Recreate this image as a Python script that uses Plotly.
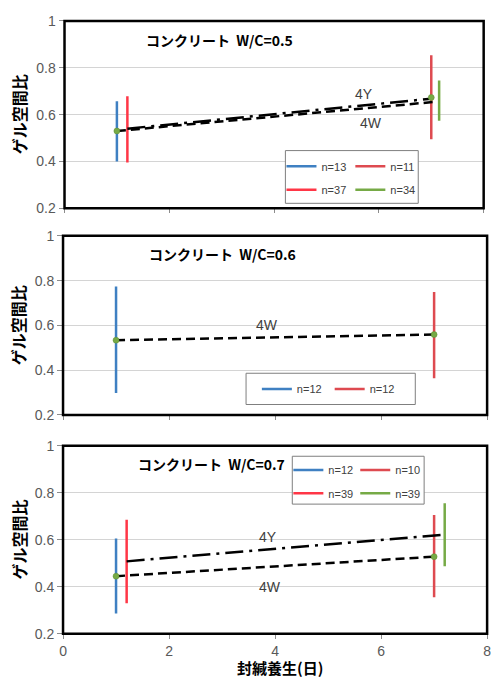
import plotly.graph_objects as go

# ---------------- data ----------------
# W/C = 0.5
bar_n_05 = ["n=13", "n=11", "n=37", "n=34"]
bar_x_05 = [1.0, 7.0, 1.2, 7.15]
bar_lo_05 = [0.400, 0.495, 0.395, 0.574]
bar_hi_05 = [0.657, 0.854, 0.678, 0.746]
line4w_x_05 = [1.0, 7.1]
line4w_y_05 = [0.530, 0.655]
line4y_x_05 = [1.2, 7.0]
line4y_y_05 = [0.540, 0.668]
mark_x_05 = [1.0, 7.0]
mark_y_05 = [0.530, 0.673]

# W/C = 0.6
bar_n_06 = ["n=12", "n=12"]
bar_x_06 = [1.0, 7.0]
bar_lo_06 = [0.298, 0.364]
bar_hi_06 = [0.774, 0.749]
line4w_x_06 = [1.0, 7.0]
line4w_y_06 = [0.534, 0.559]
mark_x_06 = [1.0, 7.0]
mark_y_06 = [0.534, 0.559]

# W/C = 0.7
bar_n_07 = ["n=12", "n=10", "n=39", "n=39"]
bar_x_07 = [1.0, 7.0, 1.2, 7.2]
bar_lo_07 = [0.286, 0.355, 0.330, 0.487]
bar_hi_07 = [0.605, 0.705, 0.685, 0.755]
line4w_x_07 = [1.0, 7.0]
line4w_y_07 = [0.445, 0.528]
line4y_x_07 = [1.2, 7.2]
line4y_y_07 = [0.508, 0.622]
mark_x_07 = [1.0, 7.0]
mark_y_07 = [0.445, 0.528]

titles = ["コンクリート  W/C=0.5", "コンクリート  W/C=0.6", "コンクリート  W/C=0.7"]
y_ticks = [0.2, 0.4, 0.6, 0.8, 1.0]
y_tick_text = ["0.2", "0.4", "0.6", "0.8", "1"]
x_ticks = [0, 2, 4, 6, 8]
x_tick_text = ["0", "2", "4", "6", "8"]

# ---------------- style ----------------
W, H = 498, 684
BLUE = "#3F80C2"
RED_DARK = "#DE4A50"
RED_BRIGHT = "#FF3646"
GREEN = "#76AA46"
colors_05 = [BLUE, RED_DARK, RED_BRIGHT, GREEN]
colors_06 = [BLUE, RED_DARK]
colors_07 = [BLUE, RED_DARK, RED_BRIGHT, GREEN]

FONT = "Liberation Sans, Arial, sans-serif"
JP = "Noto Sans CJK JP, sans-serif"
TICK_COLOR = "#595959"
TEXT_COLOR = "#404040"


def px_x(p):
    return p / W


def px_y(p):
    return 1 - p / H


# plot-area boxes in pixels: (left, right, top, bottom)
boxes = [
    (61.5, 487.5, 13.3, 205.0),
    (60.0, 491.0, 233.3, 416.7),
    (60.0, 491.0, 448.3, 640.7),
]

# legend entry pixel positions (left of sample, centre y)
leg_pos_05 = [(288, 162), (358, 162), (288, 186), (358, 186)]
leg_pos_06 = [(263, 390), (337, 390)]
leg_pos_07 = [(295, 473), (363, 473), (295, 497), (363, 497)]
# legend frames (left, right, top, bottom) in pixels
leg_frames = [(286, 421, 146, 200), (246, 418, 374, 406), (293, 427, 459, 508)]

fig = go.Figure()
legend_count = [0]
legend_layouts = {}


def axis_ids(idx):
    return ("x", "y") if idx == 0 else (f"x{idx + 1}", f"y{idx + 1}")


def add_bars(idx, names, xs, los, his, cols, positions):
    xa, ya = axis_ids(idx)
    for name, x, lo, hi, c, (lx, ly) in zip(names, xs, los, his, cols, positions):
        legend_count[0] += 1
        k = legend_count[0]
        lname = "legend" if k == 1 else f"legend{k}"
        fig.add_trace(go.Scatter(
            x=[x, x], y=[lo, hi], mode="lines", name=name,
            line=dict(color=c, width=2.5), xaxis=xa, yaxis=ya,
            legend=lname, showlegend=True, hoverinfo="skip",
        ))
        legend_layouts[lname] = dict(
            x=px_x(lx - 6), y=px_y(ly), xanchor="left", yanchor="middle",
            bgcolor="rgba(0,0,0,0)", borderwidth=0,
            font=dict(family=FONT, size=11, color=TEXT_COLOR),
            itemwidth=30, tracegroupgap=0,
        )


def add_line(idx, xs, ys, dash):
    xa, ya = axis_ids(idx)
    fig.add_trace(go.Scatter(
        x=xs, y=ys, mode="lines", line=dict(color="black", width=2.5, dash=dash),
        xaxis=xa, yaxis=ya, showlegend=False, hoverinfo="skip",
    ))


def add_marks(idx, xs, ys):
    xa, ya = axis_ids(idx)
    fig.add_trace(go.Scatter(
        x=xs, y=ys, mode="markers",
        marker=dict(color=GREEN, size=6, line=dict(color="#5E8F35", width=0.5)),
        xaxis=xa, yaxis=ya, showlegend=False, hoverinfo="skip",
    ))


DASH_4W = "9px,5px"
DASH_4Y = "18px,6px,3px,6px"

# panel 1
add_bars(0, bar_n_05, bar_x_05, bar_lo_05, bar_hi_05, colors_05, leg_pos_05)
add_line(0, line4y_x_05, line4y_y_05, DASH_4Y)
add_line(0, line4w_x_05, line4w_y_05, DASH_4W)
add_marks(0, mark_x_05, mark_y_05)
# panel 2
add_bars(1, bar_n_06, bar_x_06, bar_lo_06, bar_hi_06, colors_06, leg_pos_06)
add_line(1, line4w_x_06, line4w_y_06, DASH_4W)
add_marks(1, mark_x_06, mark_y_06)
# panel 3
add_bars(2, bar_n_07, bar_x_07, bar_lo_07, bar_hi_07, colors_07, leg_pos_07)
add_line(2, line4y_x_07, line4y_y_07, DASH_4Y)
add_line(2, line4w_x_07, line4w_y_07, DASH_4W)
add_marks(2, mark_x_07, mark_y_07)

layout = dict(
    width=W, height=H, margin=dict(l=0, r=0, t=0, b=0),
    paper_bgcolor="white", plot_bgcolor="white",
    font=dict(family=FONT, color=TICK_COLOR),
)
shapes = []
annotations = []
for i, (l, r, t, b) in enumerate(boxes):
    xk = "xaxis" if i == 0 else f"xaxis{i + 1}"
    yk = "yaxis" if i == 0 else f"yaxis{i + 1}"
    xa, ya = axis_ids(i)
    layout[xk] = dict(
        domain=[px_x(l), px_x(r)], anchor=ya, range=[0, 8],
        tickmode="array", tickvals=x_ticks,
        ticktext=x_tick_text if i == 2 else [""] * len(x_ticks),
        ticks="outside", ticklen=4, tickcolor="#8C8C8C",
        showgrid=False, zeroline=False, showline=False,
        tickfont=dict(family=FONT, size=14, color=TICK_COLOR),
    )
    layout[yk] = dict(
        domain=[px_y(b), px_y(t)], anchor=xa, range=[0.2, 1.0],
        tickmode="array", tickvals=y_ticks, ticktext=y_tick_text,
        ticks="outside", ticklen=5, tickcolor="#8C8C8C",
        showgrid=True, gridcolor="#D4D4D4", gridwidth=1,
        zeroline=False, showline=False,
        tickfont=dict(family=FONT, size=14, color=TICK_COLOR),
    )
    # frame around the plot area
    shapes.append(dict(
        type="rect", xref="paper", yref="paper",
        x0=px_x(l), x1=px_x(r), y0=px_y(b), y1=px_y(t),
        line=dict(color="black", width=2.5), layer="above",
    ))
    # panel heading
    annotations.append(dict(
        x=[2.95, 3.0, 2.8][i], y=[0.918, 0.92, 0.924][i], xref=xa, yref=ya,
        text=f"<b>{titles[i]}</b>", showarrow=False,
        xanchor="center", yanchor="middle",
        font=dict(family=JP, size=14, color="black"),
    ))
    # y-axis title
    annotations.append(dict(
        x=px_x(15), y=px_y((t + b) / 2), xref="paper", yref="paper",
        text="<b>ゲル空間比</b>", textangle=-90, showarrow=False,
        xanchor="center", yanchor="middle",
        font=dict(family=JP, size=16, color="black"),
    ))

# legend frames
for (l, r, t, b) in leg_frames:
    shapes.append(dict(
        type="rect", xref="paper", yref="paper",
        x0=px_x(l), x1=px_x(r), y0=px_y(b), y1=px_y(t),
        line=dict(color="#7F7F7F", width=1), fillcolor="white", layer="above",
    ))

# series labels
series_labels = [
    ("4Y", 5.72, 0.69, "x", "y"),
    ("4W", 5.85, 0.563, "x", "y"),
    ("4W", 3.85, 0.603, "x2", "y2"),
    ("4Y", 3.87, 0.612, "x3", "y3"),
    ("4W", 3.9, 0.397, "x3", "y3"),
]
for txt, x, y, xa, ya in series_labels:
    annotations.append(dict(
        x=x, y=y, xref=xa, yref=ya, text=txt, showarrow=False,
        xanchor="center", yanchor="middle",
        font=dict(family=FONT, size=14, color=TEXT_COLOR),
    ))

# x-axis title
annotations.append(dict(
    x=px_x(281), y=px_y(675), xref="paper", yref="paper",
    text="<b>封緘養生(日)</b>", showarrow=False,
    xanchor="center", yanchor="middle",
    font=dict(family=JP, size=15, color="black"),
))

layout["shapes"] = shapes
layout["annotations"] = annotations
layout.update(legend_layouts)
fig.update_layout(**layout)

fig.write_html("out.html")
